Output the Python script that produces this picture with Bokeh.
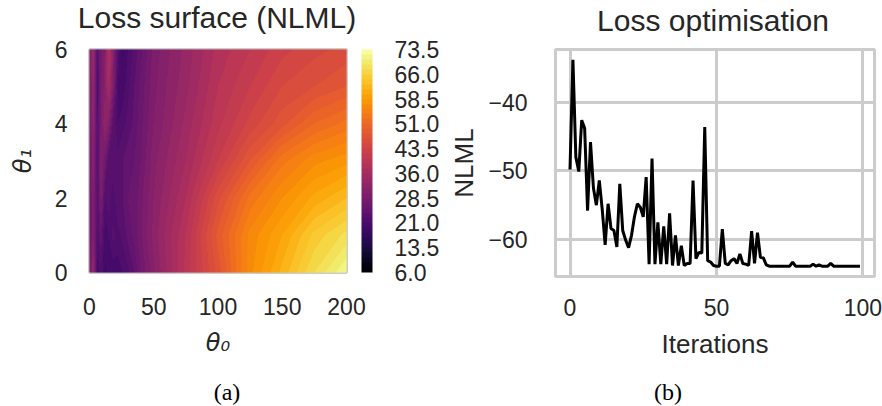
import numpy as np
from bokeh.plotting import figure
from bokeh.layouts import row, column
from bokeh.models import (ColorBar, LinearColorMapper, FixedTicker, PrintfTickFormatter,
                          Div, Range1d)
from bokeh.palettes import Inferno256
from bokeh.embed import file_html
from bokeh.resources import INLINE

# ---------------- data: loss surface (NLML) on a theta0 x theta1 grid ----------------
theta0 = [0, 3, 6, 9, 12, 15, 18, 22, 26, 30, 35, 40, 50, 60, 75, 100, 125, 150, 175, 200]
theta1 = [0, 1, 2, 3, 4, 5, 6]
nlml_t1_0 = [28, 33, 20, 22, 19, 20, 20, 20, 21, 22, 24, 27, 31, 34.5, 39.5, 47, 56.5, 62, 67.5, 72]
nlml_t1_1 = [26, 30, 22, 25, 20, 21, 23, 22, 23, 24.5, 26, 28, 32, 35, 39, 48.5, 56, 60, 65, 68]
nlml_t1_2 = [26, 30, 23, 29, 22, 24, 21, 24, 24, 25.5, 26, 28, 31.5, 34, 37.5, 46, 53, 57, 60.5, 63]
nlml_t1_3 = [27, 31, 22, 30, 27, 22, 24, 23, 24, 25, 25.5, 27, 31, 33, 36, 42, 48, 53.5, 56.5, 58]
nlml_t1_4 = [28, 32, 22, 29, 33, 30, 24, 21, 22, 23, 24.5, 26.5, 30, 32, 35, 40, 44, 47.5, 51, 53]
nlml_t1_5 = [29, 33, 21, 28, 31, 36, 30, 21, 20, 22, 24, 26, 29.5, 31.5, 34, 39, 42, 45, 46.5, 48]
nlml_t1_6 = [30, 34, 22, 28, 30, 38, 32, 22, 19, 21, 23, 25, 29, 31, 33.5, 38, 40.5, 43, 44.5, 45.5]
colorbar_ticks = [6.0, 13.5, 21.0, 28.5, 36.0, 43.5, 51.0, 58.5, 66.0, 73.5]

# ---------------- data: loss optimisation ----------------
loss = [
    -49.8, -33.8, -48.0, -50.1, -42.6, -43.8, -55.8, -45.8, -52.5, -55.0,
    -51.4, -55.6, -60.8, -54.8, -58.4, -58.7, -61.1, -51.9, -58.7, -60.1,
    -61.2, -59.4, -56.7, -54.8, -55.3, -56.7, -50.9, -63.6, -48.2, -63.6,
    -57.5, -63.6, -58.1, -63.6, -56.2, -63.8, -59.4, -63.8, -60.9, -63.8,
    -63.5, -63.5, -51.4, -62.8, -61.9, -62.0, -43.6, -63.1, -63.3, -63.8,
    -63.9, -63.9, -58.5, -63.5, -63.7, -63.1, -62.8, -63.5, -62.1, -63.5,
    -63.6, -63.8, -58.8, -63.5, -59.0, -62.6, -62.7, -63.7, -63.9, -63.9,
    -63.9, -63.9, -63.9, -63.9, -63.9, -63.9, -63.3, -63.9, -63.9, -63.9,
    -63.9, -63.9, -63.9, -63.6, -63.9, -63.7, -63.9, -63.9, -63.9, -63.5,
    -63.9, -63.9, -63.9, -63.9, -63.9, -63.9, -63.9, -63.9, -63.9, -63.9,
]
iterations = list(range(len(loss)))

# ---------------- styling ----------------
FONT = "Liberation Sans"
MATH = "DejaVu Sans"
SERIF = "Liberation Serif"
TXT = "#262626"
GRID = "#cccccc"

lo, hi = colorbar_ticks[0], colorbar_ticks[-1]
n_bands = 45
levels = list(np.linspace(lo, hi, n_bands + 1))
palette = [Inferno256[min(255, int((k + 0.5) / n_bands * 256))] for k in range(n_bands)]


def style_axes(p, tick_px="23px", label_px="26px"):
    for ax in (p.xaxis[0], p.yaxis[0]):
        ax.axis_line_color = None
        ax.major_tick_line_color = None
        ax.minor_tick_line_color = None
        ax.major_tick_out = 0
        ax.major_tick_in = 0
        ax.major_label_text_font = FONT
        ax.major_label_text_font_size = tick_px
        ax.major_label_text_color = TXT
        ax.axis_label_text_font = FONT
        ax.axis_label_text_font_size = label_px
        ax.axis_label_text_color = TXT
        ax.axis_label_text_font_style = "normal"


def text_div(text, width, height, font, size, line_height, color):
    return Div(text=text, width=width, height=height, margin=(0, 0, 0, 0),
               styles={"font-family": font, "font-size": size, "text-align": "center",
                       "line-height": line_height, "color": color, "white-space": "nowrap"})


# ---------------- left: loss surface ----------------
FW1, FH1 = 257, 223
p1 = figure(frame_width=FW1, frame_height=FH1, output_backend="svg", toolbar_location=None,
            title=None, x_range=Range1d(0, 200), y_range=Range1d(0, 6),
            min_border_left=89, min_border_right=95, min_border_top=8, min_border_bottom=109)
z = np.array([nlml_t1_0, nlml_t1_1, nlml_t1_2, nlml_t1_3, nlml_t1_4, nlml_t1_5, nlml_t1_6])
for _ in range(3):
    cr = p1.contour(x=np.array(theta0, dtype=float), y=np.array(theta1, dtype=float), z=z,
                    levels=levels, fill_color=palette)
    g = cr.fill_renderer.glyph
    g.line_color = g.fill_color
    g.line_width = 1.0
p1.grid.visible = False
p1.outline_line_color = GRID
p1.outline_line_width = 3
p1.xaxis.ticker = FixedTicker(ticks=[0, 50, 100, 150, 200])
p1.yaxis.ticker = FixedTicker(ticks=[0, 2, 4, 6])
p1.xaxis.axis_label = "θ₀"
p1.yaxis.axis_label = "θ₁"
style_axes(p1)
for ax in (p1.xaxis[0], p1.yaxis[0]):
    ax.axis_label_text_font = MATH
    ax.axis_label_text_font_style = "italic"
    ax.axis_label_text_font_size = "24px"
p1.xaxis.major_label_standoff = 25
p1.xaxis.axis_label_standoff = 11
p1.yaxis.major_label_standoff = 22
p1.yaxis.axis_label_standoff = 15

mapper = LinearColorMapper(palette=palette, low=lo, high=hi)
cb = ColorBar(color_mapper=mapper, ticker=FixedTicker(ticks=colorbar_ticks),
              formatter=PrintfTickFormatter(format="%.1f"),
              width=11, height=FH1, location=(15, 0), padding=0, margin=0,
              major_tick_line_color=None, minor_tick_line_color=None,
              bar_line_color=None, border_line_color=None, background_fill_color=None,
              label_standoff=22, major_label_text_font=FONT, major_label_text_font_size="23px",
              major_label_text_color=TXT)
p1.add_layout(cb, "right")

# ---------------- right: loss optimisation ----------------
FW2, FH2 = 319, 227
ymin, ymax = min(loss), max(loss)
ypad = 0.05 * (ymax - ymin)
xpad = 0.05 * (iterations[-1] - iterations[0])
p2 = figure(frame_width=FW2, frame_height=FH2, output_backend="svg", toolbar_location=None,
            title=None,
            x_range=Range1d(iterations[0] - xpad, iterations[-1] + xpad),
            y_range=Range1d(ymin - ypad, ymax + ypad),
            min_border_left=113, min_border_right=9, min_border_top=11, min_border_bottom=102)
p2.line(iterations, loss, line_color="#000000", line_width=3)
p2.outline_line_color = GRID
p2.outline_line_width = 3
p2.grid.grid_line_color = GRID
p2.grid.grid_line_width = 3
p2.xaxis.ticker = FixedTicker(ticks=[0, 50, 100])
p2.yaxis.ticker = FixedTicker(ticks=[-60, -50, -40])
p2.yaxis.major_label_overrides = {-60: "\u221260", -50: "\u221250", -40: "\u221240"}
p2.xaxis.axis_label = "Iterations"
p2.yaxis.axis_label = "NLML"
style_axes(p2)
p2.xaxis.major_label_standoff = 22
p2.xaxis.axis_label_standoff = 10
p2.yaxis.major_label_standoff = 28
p2.yaxis.axis_label_standoff = 6

for p in (p1, p2):
    p.background_fill_color = "white"
    p.border_fill_color = "white"

titles = row(text_div("Loss surface (NLML)", 434, 38, FONT, "30px", "35px", TXT),
             Div(text="", width=110, height=38, margin=(0, 0, 0, 0)),
             text_div("Loss optimisation", 338, 38, FONT, "30px", "41px", TXT),
             spacing=0)
captions = row(text_div("(a)", 454, 28, SERIF, "24px", "28px", "#000000"),
               text_div("(b)", 428, 28, SERIF, "24px", "28px", "#000000"),
               spacing=0)
layout = column(titles, row(p1, p2, spacing=0), captions, spacing=0)
open("out.html", "w").write(file_html(layout, INLINE))
